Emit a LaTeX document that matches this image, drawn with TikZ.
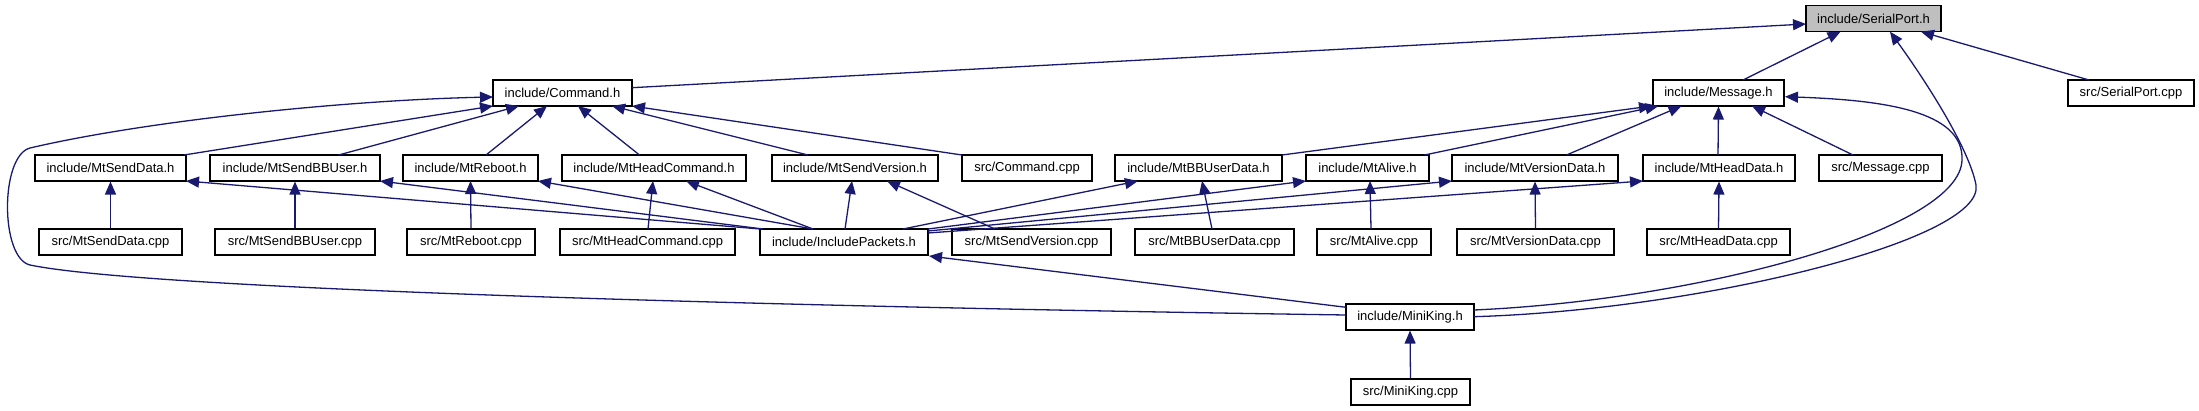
\documentclass[tikz,border=0pt]{standalone}
\usepackage{fontspec}
\setmainfont{Liberation Sans}
\usetikzlibrary{arrows.meta,calc}
\definecolor{edgeblue}{HTML}{191970}
\definecolor{rootgrey}{HTML}{BFBFBF}
\begin{document}
\begin{tikzpicture}[x=1pt,y=-1pt,
  box/.style={draw=black, line width=1.1pt, fill=white, minimum height=26pt, inner sep=0pt, font=\fontsize{13}{15}\selectfont},
  edge/.style={draw=edgeblue, line width=1.3pt, -{Triangle[length=13pt,width=11pt]}}]
\useasboundingbox (0,0) rectangle (2199,411);
% row 0
\node[box, fill=rootgrey, minimum width=135pt] (sp) at (1873.5,18.7) {include/SerialPort.h};
% row 1
\node[box, minimum width=139pt] (cmd) at (562.5,93) {include/Command.h};
\node[box, minimum width=131pt] (msg) at (1718.5,93) {include/Message.h};
\node[box, minimum width=126pt] (spc) at (2131,93) {src/SerialPort.cpp};
% row 2
\node[box, minimum width=151pt] (sd) at (110.5,168) {include/MtSendData.h};
\node[box, minimum width=170pt] (sbb) at (295,168) {include/MtSendBBUser.h};
\node[box, minimum width=135pt] (rb) at (470.5,168) {include/MtReboot.h};
\node[box, minimum width=184pt] (hc) at (654,168) {include/MtHeadCommand.h};
\node[box, minimum width=166pt] (sv) at (855,168) {include/MtSendVersion.h};
\node[box, minimum width=130pt] (cmdc) at (1027,168) {src/Command.cpp};
\node[box, minimum width=167pt] (bbd) at (1198.5,168) {include/MtBBUserData.h};
\node[box, minimum width=123pt] (al) at (1367.5,168) {include/MtAlive.h};
\node[box, minimum width=166pt] (vd) at (1535,168) {include/MtVersionData.h};
\node[box, minimum width=152pt] (hd) at (1719,168) {include/MtHeadData.h};
\node[box, minimum width=123pt] (msgc) at (1880.5,168) {src/Message.cpp};
% row 3
\node[box, minimum width=143pt] (sdc) at (110.5,242) {src/MtSendData.cpp};
\node[box, minimum width=160pt] (sbbc) at (295,242) {src/MtSendBBUser.cpp};
\node[box, minimum width=128pt] (rbc) at (471,242) {src/MtReboot.cpp};
\node[box, minimum width=175pt] (hcc) at (647.5,242) {src/MtHeadCommand.cpp};
\node[box, minimum width=168pt] (ip) at (844,242) {include/IncludePackets.h};
\node[box, minimum width=159pt] (svc) at (1031.5,242) {src/MtSendVersion.cpp};
\node[box, minimum width=159pt] (bbdc) at (1214.5,242) {src/MtBBUserData.cpp};
\node[box, minimum width=114pt] (alc) at (1374,242) {src/MtAlive.cpp};
\node[box, minimum width=157pt] (vdc) at (1535.5,242) {src/MtVersionData.cpp};
\node[box, minimum width=143pt] (hdc) at (1718.5,242) {src/MtHeadData.cpp};
% row 4-5
\node[box, minimum width=128pt] (mk) at (1410,317) {include/MiniKing.h};
\node[box, minimum width=119pt] (mkc) at (1410.5,392) {src/MiniKing.cpp};

% edges to SerialPort.h
\draw[edge] ($(cmd)+(69.5,-5.3)$) -- ($(sp)+(-67.5,5.3)$);
\draw[edge] ($(msg)+(24.5,-13)$) -- ($(sp)+(-33,13)$);
\draw[edge] ($(spc)+(-42,-13)$) -- ($(sp)+(47.5,13)$);
\draw[edge] ($(mk)+(64,-0.3)$) .. controls (1700,310) and (1985,240) .. (1976,185)
   .. controls (1969,148) and (1925,80) .. ($(sp)+(16.5,13)$);
% curve to Message.h
\draw[edge] ($(mk)+(64,-7)$) .. controls (1700,300) and (1960,230) .. (1962,160)
   .. controls (1964,110) and (1880,100) .. ($(msg)+(66.5,3.7)$);
% big curve to Command.h
\draw[edge] ($(mk)+(-64,-2)$) .. controls (800,307) and (150,290) .. (30,265)
   .. controls (0,258) and (0,156) .. (30,148)
   .. controls (150,120) and (350,100) .. ($(cmd)+(-69.5,4)$);
% edges to Command.h
\draw[edge] ($(sd)+(73.5,-13)$) -- ($(cmd)+(-69.5,13)$);
\draw[edge] ($(sbb)+(43.6,-13)$) -- ($(cmd)+(-43.5,13)$);
\draw[edge] ($(rb)+(15.5,-13)$) -- ($(cmd)+(-15.5,13)$);
\draw[edge] ($(hc)+(-14.5,-13)$) -- ($(cmd)+(15.5,13)$);
\draw[edge] ($(sv)+(-47,-13)$) -- ($(cmd)+(49.5,13)$);
\draw[edge] ($(cmdc)+(-65,-13)$) -- ($(cmd)+(69.5,13)$);
% edges to Message.h
\draw[edge] ($(bbd)+(83.5,-13)$) -- ($(msg)+(-66.5,13)$);
\draw[edge] ($(al)+(57,-13)$) -- ($(msg)+(-60,13)$);
\draw[edge] ($(vd)+(31.5,-13)$) -- ($(msg)+(-37,13)$);
\draw[edge] ($(hd)+(-1,-13)$) -- (msg.south);
\draw[edge] ($(msgc)+(-27.5,-13)$) -- ($(msg)+(33.5,13)$);
% edges from IncludePackets.h
\draw[edge] ($(ip)+(-84,-13)$) -- ($(sd)+(75.5,13)$);
\draw[edge] ($(ip)+(-81,-13)$) -- ($(sbb)+(85,13)$);
\draw[edge] ($(ip)+(-31,-13)$) -- ($(rb)+(67.5,13)$);
\draw[edge] ($(ip)+(-31,-13)$) -- ($(hc)+(32,13)$);
\draw[edge] ($(ip)+(1,-13)$) -- ($(sv)+(-3,13)$);
\draw[edge] ($(ip)+(59,-13)$) -- ($(bbd)+(-60.5,13)$);
\draw[edge] ($(ip)+(84,-13)$) -- ($(al)+(-61.5,13)$);
\draw[edge] ($(ip)+(84,-11)$) -- ($(vd)+(-83,13)$);
\draw[edge] ($(ip)+(84,-9)$) -- ($(hd)+(-76,13)$);
% MiniKing.h to IncludePackets.h
\draw[edge] ($(mk)+(-64,-9.7)$) -- ($(ip)+(85,14)$);
% vertical edges
\draw[edge] (sdc.north) -- (sd.south);
\draw[edge] (sbbc.north) -- (sbb.south);
\draw[edge] (rbc.north) -- ($(rb)+(0,13)$);
\draw[edge] ($(hcc)+(0.5,-13)$) -- ($(hc)+(-1,13)$);
\draw[edge] ($(svc)+(-36.5,-13)$) -- ($(sv)+(32,13)$);
\draw[edge] ($(bbdc)+(-2.5,-13)$) -- ($(bbd)+(3.5,13)$);
\draw[edge] ($(alc)+(-3,-13)$) -- ($(al)+(2.5,13)$);
\draw[edge] (vdc.north) -- (vd.south);
\draw[edge] (hdc.north) -- (hd.south);
\draw[edge] (mkc.north) -- (mk.south);
\end{tikzpicture}
\end{document}
